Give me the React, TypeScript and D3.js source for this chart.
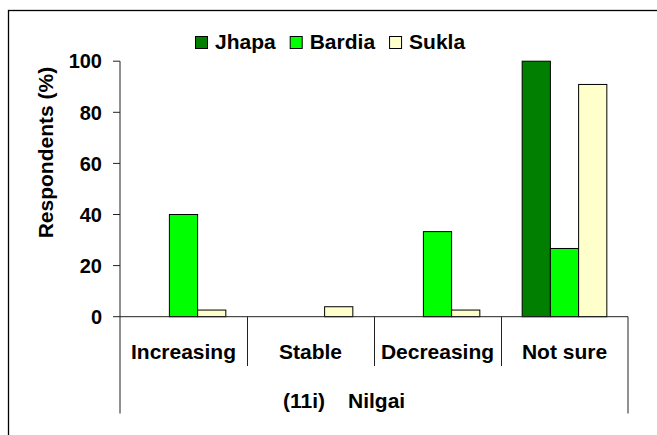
import React, { useEffect, useRef } from "react";
import * as d3 from "d3";

const categories = ["Increasing", "Stable", "Decreasing", "Not sure"];
const seriesNames = ["Jhapa", "Bardia", "Sukla"];
const jhapa = [0, 0, 0, 100];
const bardia = [40, 0, 33.3, 26.7];
const sukla = [2.6, 3.9, 2.6, 90.9];
const yTicks = [0, 20, 40, 60, 80, 100];
const colors = ["#007F00", "#00FF00", "#FFFFCC"];
const yTitle = "Respondents (%)";
const groupLabel = "(11i)";
const speciesLabel = "Nilgai";

const W = 657;
const H = 435;
const FONT = "'Liberation Sans', Arial, Helvetica, sans-serif";

export default function App() {
  const ref = useRef<SVGSVGElement | null>(null);

  useEffect(() => {
    const svg = d3.select(ref.current);
    svg.selectAll("*").remove();

    const values = [jhapa, bardia, sukla];
    const x0 = 120, x1 = 628;
    const yBase = 316.7, yTop = 61.2;
    const axisBottom = 413.5;

    // outer border
    svg.append("rect")
      .attr("x", 8.5).attr("y", 10.5)
      .attr("width", 660).attr("height", 440)
      .attr("fill", "#fff").attr("stroke", "#000").attr("stroke-width", 1.3);

    const x = d3.scaleBand<string>().domain(categories).range([x0, x1]).paddingInner(0).paddingOuter(0);
    const xs = d3.scaleBand<string>().domain(seriesNames).range([0, x.bandwidth()]).paddingInner(0).paddingOuter(0.75);
    const y = d3.scaleLinear().domain([0, 100]).range([yBase, yTop]);

    // bars
    seriesNames.forEach((s, si) => {
      svg.append("g").selectAll("rect")
        .data(categories.map((c, ci) => ({ c, v: values[si][ci] })).filter(d => d.v > 0))
        .join("rect")
        .attr("x", d => (x(d.c) as number) + (xs(s) as number))
        .attr("y", d => y(d.v))
        .attr("width", xs.bandwidth())
        .attr("height", d => yBase - y(d.v))
        .attr("fill", colors[si])
        .attr("stroke", "#000")
        .attr("stroke-width", 1);
    });

    const axisColor = "#222";
    // y axis line
    svg.append("line")
      .attr("x1", x0).attr("x2", x0).attr("y1", y(100)).attr("y2", axisBottom)
      .attr("stroke", axisColor).attr("stroke-width", 1);
    // y ticks
    const yt = svg.append("g");
    yTicks.forEach(t => {
      yt.append("line").attr("x1", x0 - 7).attr("x2", x0).attr("y1", y(t)).attr("y2", y(t))
        .attr("stroke", axisColor).attr("stroke-width", 1);
      yt.append("text").attr("x", 102).attr("y", y(t)).attr("dy", "0.36em")
        .attr("text-anchor", "end").attr("font-family", FONT).attr("font-weight", "bold")
        .attr("font-size", 20).attr("fill", "#000").text(String(t));
    });

    // x axis line
    svg.append("line")
      .attr("x1", x0).attr("x2", x1).attr("y1", yBase).attr("y2", yBase)
      .attr("stroke", axisColor).attr("stroke-width", 1);
    // category separators
    categories.forEach((c, i) => {
      if (i === 0) return;
      const xx = Math.round(x(c) as number) + 0.5;
      svg.append("line").attr("x1", xx).attr("x2", xx).attr("y1", yBase).attr("y2", 366)
        .attr("stroke", axisColor).attr("stroke-width", 1);
    });
    svg.append("line").attr("x1", x1).attr("x2", x1).attr("y1", yBase).attr("y2", axisBottom)
      .attr("stroke", axisColor).attr("stroke-width", 1);
    // category labels
    categories.forEach(c => {
      svg.append("text").attr("x", (x(c) as number) + x.bandwidth() / 2).attr("y", 358.5)
        .attr("text-anchor", "middle").attr("font-family", FONT).attr("font-weight", "bold")
        .attr("font-size", 21).attr("fill", "#000").text(c);
    });
    // group label row
    svg.append("text").attr("x", 283).attr("y", 408)
      .attr("font-family", FONT).attr("font-weight", "bold")
      .attr("font-size", 21).attr("fill", "#000").text(groupLabel);
    svg.append("text").attr("x", 348).attr("y", 408)
      .attr("font-family", FONT).attr("font-weight", "bold")
      .attr("font-size", 21).attr("fill", "#000").text(speciesLabel);

    // y title
    svg.append("text")
      .attr("transform", `translate(52.5, ${(yTop + 243) / 2 + 0.5}) rotate(-90)`)
      .attr("text-anchor", "middle").attr("font-family", FONT).attr("font-weight", "bold")
      .attr("font-size", 21).attr("fill", "#000").text(yTitle);

    // legend
    const lg = svg.append("g");
    let lx = 195;
    seriesNames.forEach((s, i) => {
      lg.append("rect").attr("x", lx + 0.5).attr("y", 36.5).attr("width", 12).attr("height", 12)
        .attr("fill", colors[i]).attr("stroke", "#000").attr("stroke-width", 1);
      const t = lg.append("text").attr("x", lx + 20).attr("y", 48.5)
        .attr("font-family", FONT).attr("font-weight", "bold")
        .attr("font-size", 21).attr("fill", "#000").text(s);
      const w = (t.node() as SVGTextElement).getComputedTextLength();
      lx = lx + 20 + w + 14;
    });
  }, []);

  return (
    <svg ref={ref} width={W} height={H}
      style={{ position: "absolute", left: 0, top: 0, background: "#fff" }} />
  );
}
